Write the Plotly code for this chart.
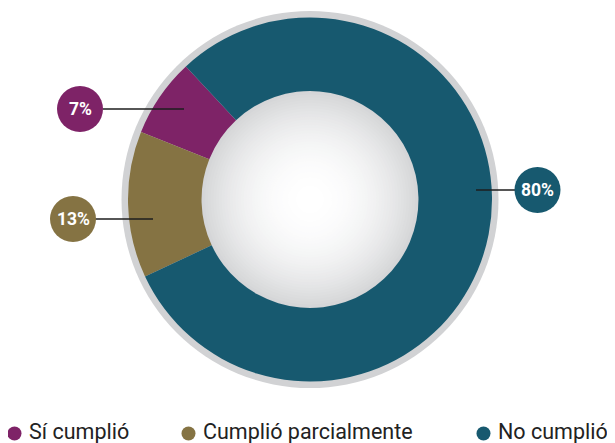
import plotly.graph_objects as go

# the page body keeps an 8px margin, so the figure fills the rest of the window
OFF = 8
W, H = 615 - OFF, 443 - OFF

# data
labels = ["Sí cumplió", "Cumplió parcialmente", "No cumplió"]
values = [7, 13, 80]
colors = ["#7e2367", "#857343", "#17596f"]

# donut geometry (window pixels)
CX, CY = 310, 199.5
R_OUT = 182
R_RING = 188.5
HOLE = 0.596
START_CCW = 43  # first slice begins this many degrees counter-clockwise of 12 o'clock

# callout placement: circle centre x, y, and leader line start/end x
callouts = [
    dict(cx=80, cy=109, x0=103, x1=184),
    dict(cx=73, cy=219, x0=95, x1=153),
    dict(cx=537.5, cy=190, x0=476, x1=515),
]
legend_x = [14.5, 188.5, 483.5]


def px(x):
    return (x - OFF) / W


def py(y):
    return 1 - (y - OFF) / H


def circle(cx, cy, r, fill, layer="above"):
    return dict(type="circle", xref="paper", yref="paper",
                x0=px(cx - r), x1=px(cx + r), y0=py(cy + r), y1=py(cy - r),
                fillcolor=fill, line=dict(width=0), layer=layer)


# counter-clockwise pies start the first slice's far edge at `rotation`
first_span = 360 * values[0] / sum(values)

fig = go.Figure(go.Pie(
    labels=labels,
    values=values,
    marker=dict(colors=colors, line=dict(width=0)),
    hole=HOLE,
    sort=False,
    direction="counterclockwise",
    rotation=-(START_CCW + first_span),
    textinfo="none",
    showlegend=False,
    domain=dict(x=[px(CX - R_OUT), px(CX + R_OUT)],
                y=[py(CY + R_OUT), py(CY - R_OUT)]),
))

shapes = [circle(CX, CY, R_RING, "#d1d2d4", layer="below")]

# soft radial shading inside the hole
r_in = R_OUT * HOLE + 2
steps = 40
for i in range(steps):
    r = r_in * (1 - i / steps)
    t = (r / r_in) ** 2.2
    c0, c1 = (255, 255, 255), (211, 212, 214)
    col = tuple(round(a + (b - a) * t) for a, b in zip(c0, c1))
    shapes.append(circle(CX, CY, r, "rgb(%d,%d,%d)" % col, layer="below"))

annotations = []
for c, v, col in zip(callouts, values, colors):
    shapes.append(dict(type="line", xref="paper", yref="paper",
                       x0=px(c["x0"]), x1=px(c["x1"]), y0=py(c["cy"]), y1=py(c["cy"]),
                       line=dict(color="#1e1e1e", width=1.5), layer="above"))
    shapes.append(circle(c["cx"], c["cy"], 23, col))
    annotations.append(dict(x=px(c["cx"]), y=py(c["cy"]), xref="paper", yref="paper",
                            text="<b>%d%%</b>" % v, showarrow=False,
                            xanchor="center", yanchor="middle",
                            font=dict(family="Roboto", size=17.5, color="white")))

# legend with round markers
for lx, lab, col in zip(legend_x, labels, colors):
    shapes.append(circle(lx, 433.5, 7, col))
    annotations.append(dict(x=px(lx + 12), y=py(431), xref="paper", yref="paper",
                            text=lab, showarrow=False, xanchor="left", yanchor="middle",
                            font=dict(family="Roboto", size=21.5, color="#222222")))

fig.update_layout(
    width=W, height=H,
    margin=dict(l=0, r=0, t=0, b=0),
    paper_bgcolor="white",
    plot_bgcolor="white",
    shapes=shapes,
    annotations=annotations,
)

fig.write_html("out.html")
